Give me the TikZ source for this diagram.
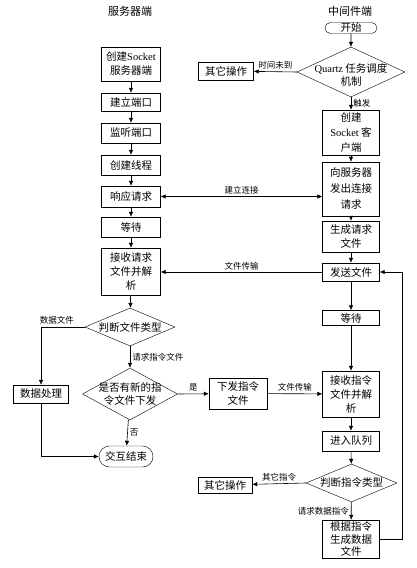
\documentclass[tikz,border=0pt]{standalone}
\usepackage{fontspec}
\setmainfont{Liberation Serif}
\newfontfamily\cjk{Noto Sans CJK SC}
\usetikzlibrary{arrows.meta, shapes.geometric, shapes.misc}
\newcommand{\en}[1]{{\rmfamily #1}}

\begin{document}
\begin{tikzpicture}[x=1pt, y=-1pt,
        box/.style={draw, align=center, font=\cjk\fontsize{10.5}{14}\selectfont, inner sep=1pt, minimum width=57pt, minimum height=19pt},
        lbox/.style={box, minimum width=59pt},
        term/.style={draw, rounded rectangle, font=\cjk\fontsize{10.5}{14}\selectfont, inner sep=1pt},
        dia/.style={draw, diamond, inner sep=0pt},
        dtext/.style={font=\cjk\fontsize{10.5}{13}\selectfont, align=center, inner sep=0pt},
        lbl/.style={font=\cjk\fontsize{8.5}{10}\selectfont, inner sep=2pt},
        title/.style={font=\cjk\fontsize{11}{13}\selectfont},
        arr/.style={-{Latex[length=5pt, width=4.5pt]}, semithick},
        darr/.style={{Latex[length=5pt, width=4.5pt]}-{Latex[length=5pt, width=4.5pt]}, semithick}]
    \useasboundingbox (0,0) rectangle (417,568);
    \node[title] (tl) at (130,11) {服务器端};
    \node[title] (tr) at (350,11) {中间件端};
    \node[lbox, minimum height=34pt] (s1) at (131,64) {创建\en{Socket}\\服务器端};
    \node[lbox, minimum height=18pt] (s2) at (131,102) {建立端口};
    \node[lbox, minimum height=20pt] (s3) at (131,133) {监听端口};
    \node[lbox, minimum height=20pt] (s4) at (131,165) {创建线程};
    \node[lbox, minimum height=21pt] (s5) at (131,196.5) {响应请求};
    \node[lbox, minimum height=20pt] (s6) at (131,227) {等待};
    \node[lbox, minimum height=47pt] (s7) at (131,271.5) {接收请求\\文件并解\\析};
    \node[dia, minimum width=90pt, minimum height=38pt, label={[dtext]center:判断文件类型}] (d1) at (130,327) {};
    \node[box, minimum width=55pt, minimum height=18pt] (p1) at (41,394) {数据处理};
    \node[dia, minimum width=95pt, minimum height=52pt, label={[dtext]center:是否有新的指\\令文件下发}] (d2) at (130,394) {};
    \node[term, minimum width=56pt, minimum height=21pt] (e1) at (126,456.5) {交互结束};
    \node[term, minimum width=52pt, minimum height=11pt, inner sep=0pt] (c0) at (351,28) {开始};
    \node[dia, minimum width=108pt, minimum height=50pt, label={[dtext, yshift=-3pt]center:\en{Quartz} 任务调度\\机制}] (q) at (351,72) {};
    \node[box, minimum width=55pt, minimum height=18pt] (o1) at (226,71) {其它操作};
    \node[box, minimum height=45pt, font=\cjk\fontsize{10.5}{15}\selectfont] (c1) at (351,132.5) {创建\\\en{Socket} 客\\户端};
    \node[box, minimum height=54pt, font=\cjk\fontsize{10.5}{16}\selectfont] (c2) at (351,189) {向服务器\\发出连接\\请求};
    \node[box, minimum height=31pt] (c3) at (351,236.5) {生成请求\\文件};
    \node[box, minimum height=18pt] (c4) at (351,272) {发送文件};
    \node[box, minimum height=15pt] (c5) at (351,318) {等待};
    \node[box, minimum height=46pt] (c6) at (351,394) {接收指令\\文件并解\\析};
    \node[box, minimum width=58pt, minimum height=31pt] (t1) at (238,393.5) {下发指令\\文件};
    \node[box, minimum height=20pt] (c7) at (351,441) {进入队列};
    \node[dia, minimum width=91pt, minimum height=38pt, label={[dtext]center:判断指令类型}] (d3) at (351.5,483) {};
    \node[box, minimum width=54pt, minimum height=16pt] (o2) at (225,485) {其它操作};
    \node[box, minimum height=38pt, font=\cjk\fontsize{10.5}{12.5}\selectfont] (c8) at (351,539) {根据指令\\生成数据\\文件};
    \draw[arr] (s1) -- (s2);
    \draw[arr] (s2) -- (s3);
    \draw[arr] (s3) -- (s4);
    \draw[arr] (s4) -- (s5);
    \draw[arr] (s5) -- (s6);
    \draw[arr] (s6) -- (s7);
    \draw[arr] (s7) -- (d1);
    \draw[arr] (d1) -- node[lbl, right] {请求指令文件} (d2);
    \draw[arr] (d1.west) -| node[lbl, above, pos=0.32] {数据文件} (p1);
    \draw[arr] (d2) -- node[lbl, right] {否} (e1);
    \draw[arr] (p1) |- (e1);
    \draw[arr] (d2.east) -- node[lbl, above] {是} (t1);
    \draw[arr] (t1) -- node[lbl, above] {文件传输} (c6);
    \draw[arr] (c0) -- (q);
    \draw[arr] (q.west) -- node[lbl, above] {时间未到} (o1);
    \draw[arr] (q) -- node[lbl, right] {触发} (c1);
    \draw[arr] (c1) -- (c2);
    \draw[arr] (c2) -- (c3);
    \draw[arr] (c3) -- (c4);
    \draw[arr] (c4) -- (c5);
    \draw[arr] (c5) -- (c6);
    \draw[arr] (c6) -- (c7);
    \draw[arr] (c7) -- (d3);
    \draw[arr] (d3.west) -- node[lbl, above] {其它指令} (o2);
    \draw[arr] (d3) -- node[lbl, left] {请求数据指令} (c8);
    \draw[darr] (s5) -- node[lbl, above] {建立连接} (s5 -| c2.west);
    \draw[arr] (c4) -- node[lbl, above] {文件传输} (c4 -| s7.east);
    \draw[arr] (c8.east) -- ++(23,0) |- (c4.east);
\end{tikzpicture}
\end{document}
